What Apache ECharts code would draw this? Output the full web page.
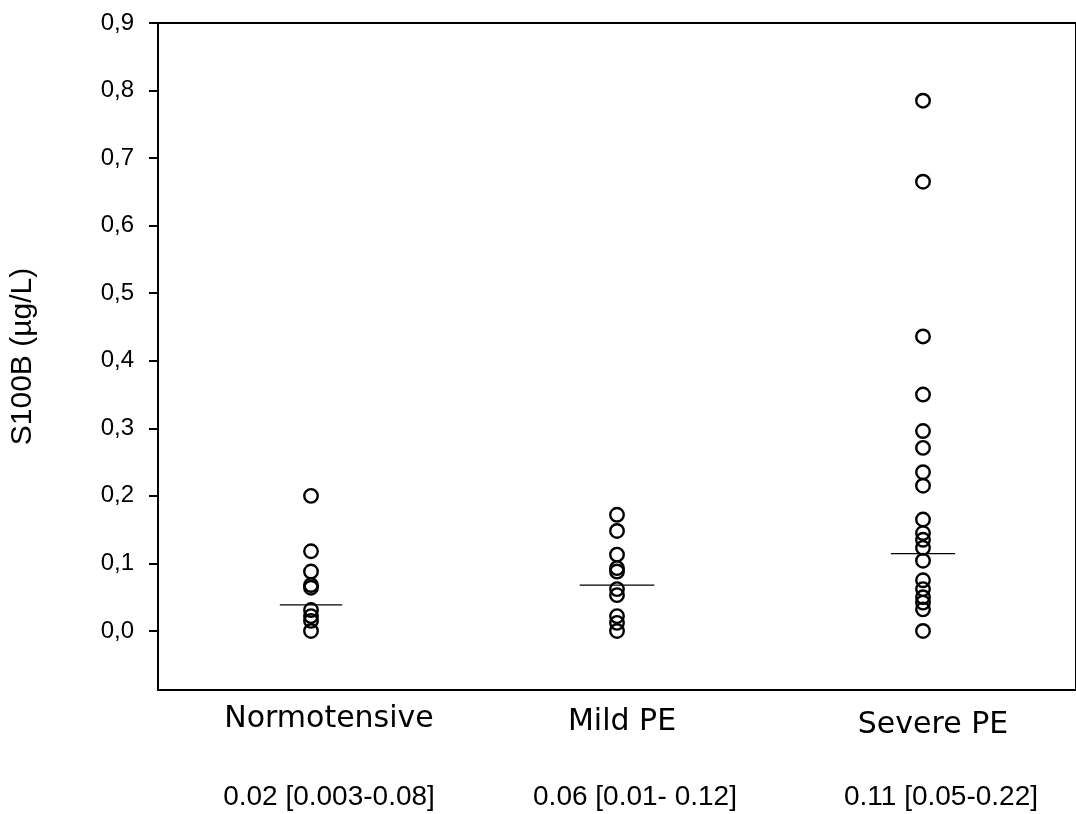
<!DOCTYPE html>
<html>
<head>
<meta charset="utf-8">
<script src="https://cdn.jsdelivr.net/npm/echarts@6/dist/echarts.min.js"></script>
<style>
  html, body { margin: 0; padding: 0; background: #fff; }
  #chart { width: 1076px; height: 814px; }
</style>
</head>
<body>
<div id="chart"></div>
<script>
// ---- data ----
const categories = ['Normotensive', 'Mild PE', 'Severe PE'];
const medianTexts = ['0.02 [0.003-0.08]', '0.06 [0.01- 0.12]', '0.11 [0.05-0.22]'];
const normotensive = [0.20, 0.118, 0.088, 0.068, 0.064, 0.031, 0.022, 0.015, 0.0];
const mildPE = [0.172, 0.148, 0.113, 0.093, 0.088, 0.062, 0.053, 0.022, 0.012, 0.0];
const severePE = [0.785, 0.665, 0.436, 0.35, 0.296, 0.271, 0.235, 0.215, 0.165, 0.145,
                  0.135, 0.123, 0.104, 0.075, 0.062, 0.05, 0.042, 0.032, 0.0];
const centerLines = [0.0385, 0.068, 0.1145];
const yTicks = [0, 0.1, 0.2, 0.3, 0.4, 0.5, 0.6, 0.7, 0.8, 0.9];

// ---- build ----
const groups = [normotensive, mildPE, severePE];
const lineHalf = [0.102, 0.122, 0.105];
const FONT = '"Liberation Sans", Arial, sans-serif';
const CAT_FONT = '"DejaVu Sans", "Liberation Sans", sans-serif';

const series = [];
groups.forEach((vals, i) => {
  series.push({
    type: 'scatter',
    xAxisIndex: 0,
    data: vals.map(v => [i, v]),
    symbol: 'circle',
    symbolSize: 13.5,
    itemStyle: { color: 'rgba(0,0,0,0)', borderColor: '#000', borderWidth: 2.4, opacity: 1 },
    emphasis: { disabled: true },
    z: 3
  });
  series.push({
    type: 'line',
    xAxisIndex: 0,
    data: [[i - lineHalf[i], centerLines[i]], [i + lineHalf[i], centerLines[i]]],
    symbol: 'none',
    lineStyle: { color: '#000', width: 1.2 },
    z: 4
  });
});

const catRich = {
  c0: { fontFamily: CAT_FONT, fontSize: 30, color: '#000', padding: [0, 0, 0, 36] },
  c1: { fontFamily: CAT_FONT, fontSize: 30, color: '#000', padding: [3, 0, 0, 10] },
  c2: { fontFamily: CAT_FONT, fontSize: 30, color: '#000', padding: [6, 0, 0, 20] }
};

const chart = echarts.init(document.getElementById('chart'), null, { renderer: 'canvas' });
chart.setOption({
  animation: false,
  backgroundColor: '#fff',
  grid: {
    left: 157, top: 23, width: 924, bottom: 124,
    show: true, borderColor: '#000', borderWidth: 2, backgroundColor: 'transparent'
  },
  xAxis: [
    {
      type: 'value', min: -0.5, max: 2.5, position: 'bottom',
      axisLine: { show: true, onZero: false, lineStyle: { color: '#000', width: 2 } },
      axisTick: { show: false },
      splitLine: { show: false },
      axisLabel: {
        customValues: [0, 1, 2],
        formatter: v => { const i = Math.round(v); return '{c' + i + '|' + categories[i] + '}'; },
        rich: catRich,
        color: '#000', fontFamily: CAT_FONT, fontSize: 30, margin: 14
      }
    },
    {
      type: 'value', min: -0.5, max: 2.5, position: 'bottom',
      axisLine: { show: false, onZero: false },
      axisTick: { show: false },
      splitLine: { show: false },
      axisLabel: {
        customValues: [0, 1, 2],
        formatter: v => medianTexts[Math.round(v)],
        padding: [0, 0, 0, 36],
        color: '#000', fontFamily: FONT, fontSize: 28, margin: 93
      }
    }
  ],
  yAxis: {
    type: 'value', min: -0.0874, max: 0.9,
    name: 'S100B (µg/L)', nameLocation: 'middle', nameGap: 120,
    nameTextStyle: { color: '#000', fontFamily: FONT, fontSize: 30 },
    axisLine: { show: true, onZero: false, lineStyle: { color: '#000', width: 2 } },
    axisTick: { show: true, customValues: yTicks, length: 9, lineStyle: { color: '#000', width: 2 } },
    splitLine: { show: false },
    axisLabel: {
      customValues: yTicks,
      formatter: v => v.toFixed(1).replace('.', ','),
      color: '#000', fontFamily: FONT, fontSize: 24, margin: 24
    }
  },
  series: series
});
</script>
</body>
</html>
